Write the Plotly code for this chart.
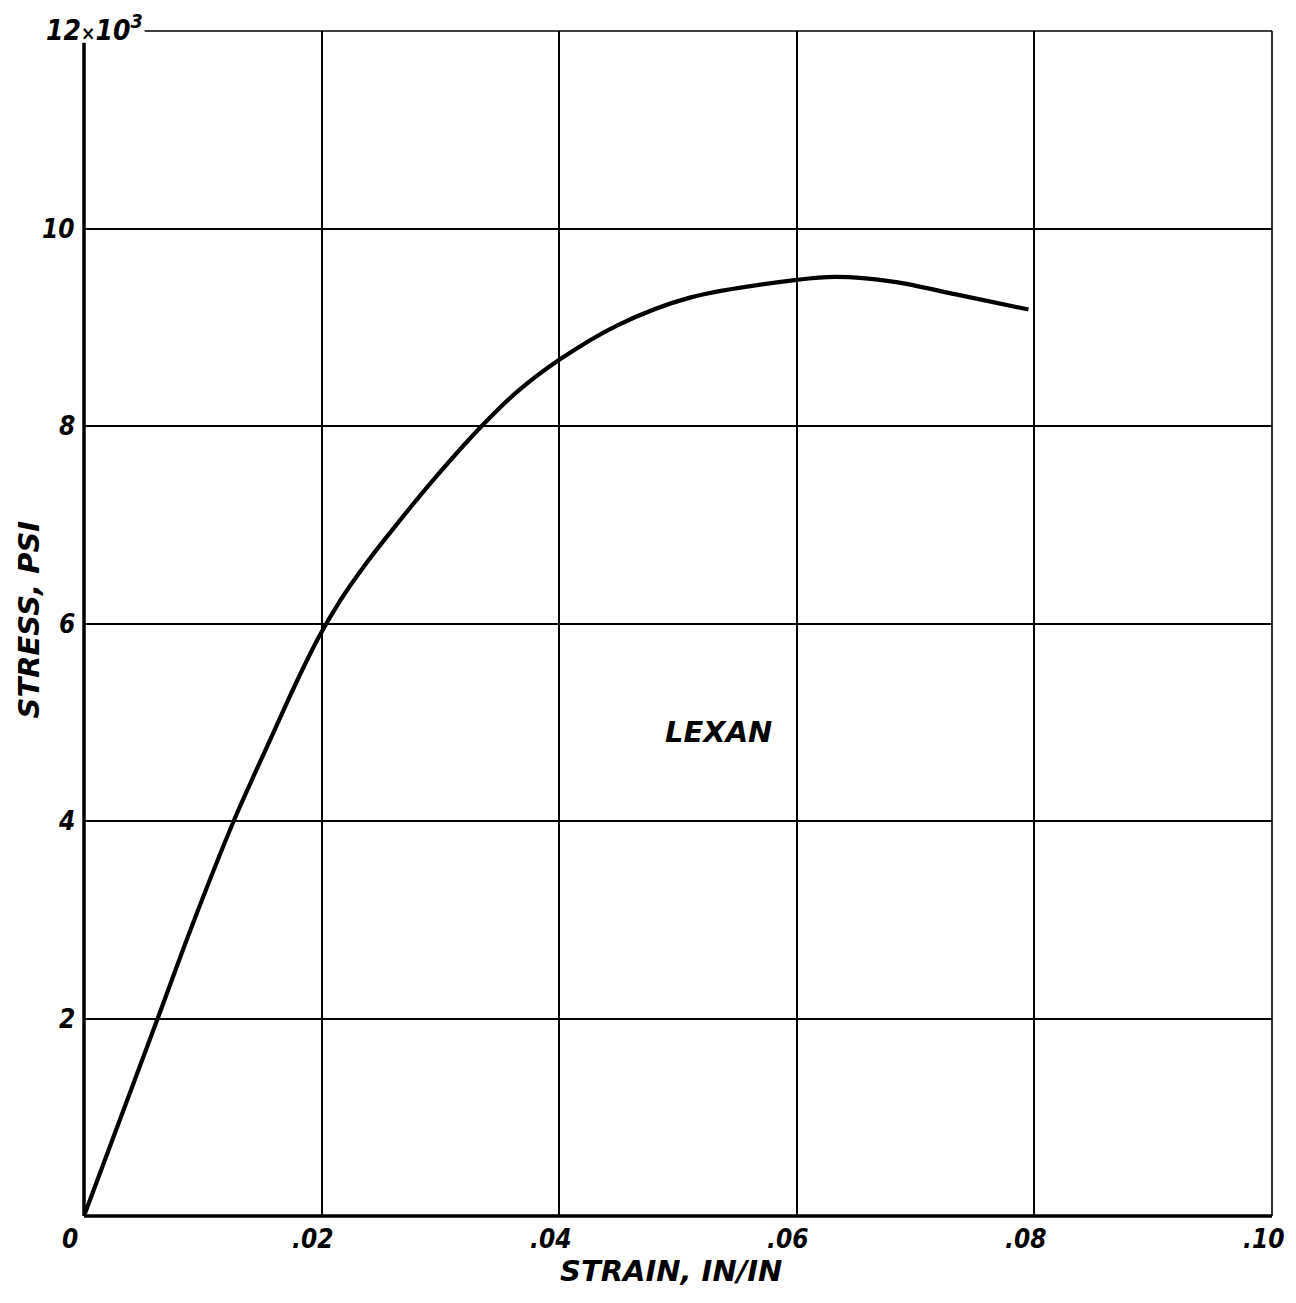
import plotly.graph_objects as go

# Stress-strain curve for Lexan (strain in in/in, stress in thousands of psi)
strain = [0.0, 0.0062, 0.0090, 0.0126, 0.0146, 0.0163, 0.0179, 0.0198, 0.0215,
          0.0237, 0.0265, 0.0293, 0.0334, 0.0363, 0.0400, 0.0449, 0.0510, 0.0600,
          0.0633, 0.0682, 0.0735, 0.0795]
stress = [0.0, 2.0, 2.91, 4.0, 4.54, 4.99, 5.41, 5.87, 6.22,
          6.60, 7.03, 7.44, 7.99, 8.33, 8.67, 9.02, 9.30, 9.48,
          9.51, 9.46, 9.33, 9.18]

x_ticks = [0.02, 0.04, 0.06, 0.08, 0.10]
x_tick_text = [".02", ".04", ".06", ".08", ".10"]
y_ticks = [2, 4, 6, 8, 10]
y_tick_text = ["2", "4", "6", "8", "10"]

FONT = "DejaVu Sans"
FONT_NARROW = "DejaVu Sans Condensed"
INK = "#000000"

fig = go.Figure()
fig.add_trace(go.Scatter(
    x=strain, y=stress, mode="lines",
    line=dict(color=INK, width=4.2, shape="spline", smoothing=1.0),
    showlegend=False, hoverinfo="skip",
))

fig.update_layout(
    width=1296, height=1303,
    margin=dict(l=84, r=24, t=31, b=87),
    paper_bgcolor="white", plot_bgcolor="white",
    xaxis=dict(range=[0, 0.1], tickvals=[0.02, 0.04, 0.06, 0.08], showticklabels=False,
               showgrid=True, gridcolor=INK, gridwidth=1.6, zeroline=False,
               showline=False, ticks=""),
    yaxis=dict(range=[0, 12], tickvals=[2, 4, 6, 8, 10], showticklabels=False,
               showgrid=True, gridcolor=INK, gridwidth=1.6, zeroline=False,
               showline=False, ticks=""),
)

# frame: heavy axes on left and bottom, light lines on right and top
fig.add_shape(type="line", x0=0, x1=0.1, y0=0, y1=0, xref="x", yref="paper",
              line=dict(color=INK, width=3.5))
fig.add_shape(type="line", x0=0, x1=0, y0=0, y1=11.88, xref="paper", yref="y",
              line=dict(color=INK, width=3.5))
fig.add_shape(type="line", x0=1, x1=1, y0=0, y1=12, xref="paper", yref="y",
              line=dict(color=INK, width=1.6))
fig.add_shape(type="line", x0=0.0051, x1=0.1, y0=1, y1=1, xref="x", yref="paper",
              line=dict(color=INK, width=1.6))

label_font = dict(family=FONT_NARROW, size=26, color=INK, weight="bold", style="italic")
title_font = dict(family=FONT, size=29, color=INK, weight="bold", style="italic")

# x tick labels
for xv, txt in zip(x_ticks, x_tick_text):
    fig.add_annotation(x=xv, y=0, xref="x", yref="y", text=txt, showarrow=False,
                       xanchor="center", yanchor="top", xshift=-9, yshift=-6,
                       font=label_font)
fig.add_annotation(x=0, y=0, xref="x", yref="y", text="0", showarrow=False,
                   xanchor="center", yanchor="top", xshift=-14, yshift=-6,
                   font=label_font)

# y tick labels
for yv, txt in zip(y_ticks, y_tick_text):
    fig.add_annotation(x=0, y=yv, xref="x", yref="y", text=txt, showarrow=False,
                       xanchor="right", yanchor="middle", xshift=-7,
                       font=label_font)
fig.add_annotation(x=0, y=12, xref="x", yref="y",
                   text='12<span style="font-size:19px">×</span>10<sup>3</sup>',
                   showarrow=False, xanchor="left", yanchor="middle",
                   xshift=-40, yshift=3, font=dict(label_font, size=28))

# axis titles
fig.add_annotation(x=0.05, y=0, xref="x", yref="y", text="STRAIN, IN/IN",
                   showarrow=False, xanchor="center", yanchor="top",
                   xshift=-7, yshift=-36, font=title_font)
fig.add_annotation(x=0, y=6, xref="x", yref="y", text="STRESS, PSI",
                   showarrow=False, textangle=-90, xanchor="center",
                   yanchor="middle", xshift=-56, yshift=4, font=title_font)

# curve label
fig.add_annotation(x=0.0534, y=4.9, xref="x", yref="y", text="LEXAN",
                   showarrow=False, xanchor="center", yanchor="middle",
                   font=dict(family=FONT, size=29, color=INK, weight="bold", style="italic"))

fig.write_html("out.html")
